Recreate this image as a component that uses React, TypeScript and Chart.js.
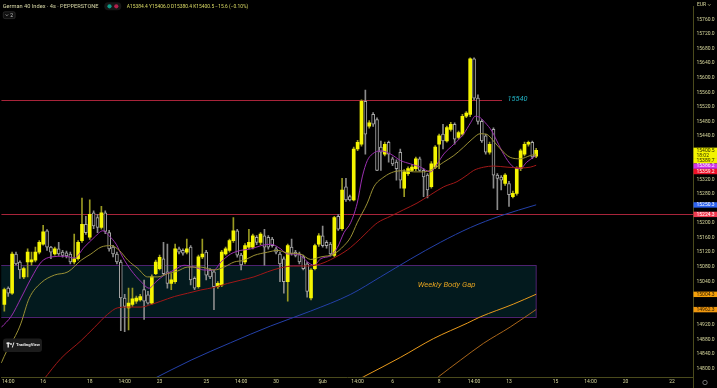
import React, { useEffect, useRef } from 'react';
import { Chart, registerables } from 'chart.js';

Chart.register(...registerables);

// ---------------- data (4h candles, index 0 = first candle of 16 Jan) ----------------
const FIRST_INDEX = -10;

const OPEN = [
  14976, 15021, 15007, 15115, 15093, 15052, 15093, 15093, 15098, 15120,
  15142, 15179, 15134, 15115, 15129, 15120, 15118, 15115, 15093, 15102,
  15152, 15197, 15161, 15228, 15215, 15188, 15228, 15174, 15134, 15115,
  15093, 14994, 14967, 14976, 14985, 14989, 15017, 15003, 14980, 15061,
  15075, 15102, 15066, 15034, 15039, 15129, 15125, 15120, 15134, 15048,
  15025, 15107, 15120, 15071, 15066, 15025, 15030, 15115, 15125, 15152,
  15179, 15112, 15093, 15134, 15134, 15161, 15147, 15165, 15161, 15156,
  15129, 15115, 15102, 15039, 15134, 15120, 15115, 15107, 15088, 14994,
  15075, 15142, 15165, 15147, 15142, 15111, 15219, 15185, 15300, 15273,
  15264, 15404, 15417, 15535, 15467, 15499, 15485, 15409, 15390, 15422,
  15377, 15368, 15395, 15296, 15336, 15345, 15350, 15377, 15345, 15332,
  15300, 15354, 15417, 15445, 15426, 15458, 15472, 15436, 15445, 15494,
  15499, 15652, 15544, 15480, 15440, 15395, 15458, 15332, 15327, 15309,
  15309, 15273, 15282, 15350, 15390, 15417, 15422, 15384.4,
];
const HIGH = [
  15021, 15025, 15120, 15120, 15096, 15079, 15129, 15120, 15134, 15152,
  15194, 15182, 15136, 15134, 15147, 15125, 15123, 15120, 15170, 15152,
  15269, 15219, 15264, 15234, 15224, 15246, 15234, 15180, 15139, 15120,
  15098, 15004, 15021, 15021, 14999, 15004, 15043, 15012, 15058, 15098,
  15112, 15147, 15142, 15061, 15142, 15134, 15129, 15156, 15138, 15052,
  15112, 15156, 15125, 15075, 15071, 15039, 15125, 15134, 15156, 15215,
  15183, 15117, 15144, 15183, 15170, 15166, 15174, 15183, 15166, 15161,
  15134, 15120, 15107, 15142, 15156, 15125, 15120, 15112, 15093, 15075,
  15142, 15171, 15192, 15152, 15147, 15219, 15224, 15323, 15323, 15277,
  15409, 15428, 15539, 15566, 15482, 15504, 15490, 15426, 15423, 15426,
  15382, 15374, 15404, 15347, 15355, 15361, 15382, 15382, 15350, 15336,
  15369, 15413, 15445, 15472, 15467, 15477, 15476, 15453, 15499, 15507,
  15655, 15655, 15553, 15485, 15445, 15423, 15462, 15336, 15331, 15336,
  15315, 15288, 15355, 15404, 15423, 15426, 15426, 15406.0,
];
const LOW = [
  14958, 14998, 15004, 15085, 15048, 15047, 15052, 15084, 15093, 15115,
  15139, 15125, 15102, 15112, 15111, 15106, 15104, 15088, 15088, 15098,
  15147, 15169, 15155, 15185, 15174, 15183, 15171, 15123, 15107, 15088,
  14904, 14901, 14906, 14971, 14979, 14985, 14935, 14977, 14977, 15058,
  15071, 15058, 15021, 15017, 15034, 15115, 15112, 15115, 15030, 15017,
  15021, 15102, 15044, 15047, 14962, 15020, 15025, 15112, 15120, 15147,
  15106, 15071, 15088, 15129, 15129, 15141, 15141, 15084, 15128, 15134,
  15115, 15039, 15007, 14985, 15112, 15107, 15088, 15071, 14996, 14989,
  15071, 15136, 15134, 15131, 15109, 15107, 15180, 15180, 15260, 15261,
  15261, 15399, 15412, 15390, 15461, 15466, 15344, 15345, 15385, 15368,
  15358, 15318, 15296, 15273, 15331, 15342, 15344, 15343, 15273, 15269,
  15296, 15350, 15350, 15404, 15423, 15453, 15417, 15431, 15440, 15490,
  15493, 15539, 15472, 15422, 15390, 15390, 15296, 15237, 15291, 15304,
  15246, 15269, 15277, 15344, 15385, 15412, 15377, 15380.4,
];
const CLOSE = [
  15017, 15007, 15115, 15088, 15071, 15075, 15120, 15099, 15120, 15147,
  15176, 15134, 15120, 15129, 15115, 15111, 15110, 15093, 15102, 15147,
  15197, 15174, 15224, 15192, 15188, 15228, 15177, 15129, 15115, 15093,
  14994, 14971, 14980, 14992, 14994, 14998, 14985, 14980, 15052, 15093,
  15106, 15061, 15034, 15044, 15129, 15120, 15117, 15129, 15044, 15021,
  15107, 15115, 15057, 15052, 15025, 15034, 15120, 15129, 15152, 15179,
  15112, 15085, 15138, 15147, 15165, 15147, 15170, 15134, 15134, 15138,
  15120, 15088, 15039, 15138, 15115, 15111, 15093, 15075, 15012, 15071,
  15138, 15165, 15138, 15138, 15115, 15215, 15183, 15291, 15264, 15264,
  15404, 15422, 15535, 15445, 15476, 15472, 15345, 15395, 15417, 15390,
  15363, 15350, 15318, 15341, 15350, 15354, 15377, 15345, 15327, 15291,
  15363, 15409, 15440, 15426, 15463, 15472, 15431, 15449, 15494, 15503,
  15652, 15544, 15480, 15426, 15395, 15417, 15332, 15323, 15318, 15332,
  15278, 15282, 15350, 15399, 15417, 15422, 15382, 15400.5,
];

// moving averages: [candle index, price]
const MA_FAST = [
  [-10.8, 14913], [-8.2, 14944], [-5.7, 14994], [-3.1, 15048], [-0.5, 15093], [2.1, 15107],
  [5.5, 15109], [8.0, 15104], [10.6, 15134], [13.2, 15161], [15.4, 15179], [17.0, 15165],
  [18.8, 15142], [20.5, 15106], [22.6, 15071], [25.2, 15039], [27.3, 15021], [29.1, 15039],
  [31.2, 15057], [33.8, 15071], [36.3, 15084], [38.9, 15079], [41.5, 15071], [44.0, 15071],
  [45.8, 15093], [48.3, 15115], [50.9, 15125], [53.5, 15129], [56.1, 15138], [58.6, 15142],
  [61.2, 15129], [62.9, 15115], [64.6, 15115], [66.3, 15111], [68.1, 15093], [69.8, 15084],
  [71.5, 15102], [74.1, 15111], [75.8, 15133], [77.5, 15174], [79.2, 15201], [80.9, 15255],
  [82.2, 15327], [83.5, 15372], [84.8, 15390], [86.9, 15399], [89.5, 15390], [92.1, 15372],
  [94.6, 15363], [97.2, 15354], [99.8, 15341], [101.5, 15363], [103.2, 15390], [105.8, 15417],
  [108.3, 15445], [110.1, 15476], [111.3, 15494], [112.6, 15490], [113.9, 15476], [115.6, 15453],
  [117.3, 15417], [119.1, 15381], [121.2, 15354], [122.9, 15350], [124.6, 15368], [126.3, 15381],
  [127, 15386.2],
];
const MA_MID = [
  [-10.8, 14815], [-9.3, 14850], [-7.7, 14879], [-6.5, 14904], [-5.7, 14925], [-3.6, 14993],
  [-0.5, 15036], [2.9, 15057], [6.4, 15066], [9.8, 15098], [12.3, 15115], [14.9, 15134],
  [17.5, 15138], [19.6, 15125], [21.8, 15098], [24.4, 15075], [26.9, 15052], [29.5, 15052],
  [32.1, 15061], [34.6, 15068], [37.2, 15079], [40.6, 15079], [44.0, 15071], [46.6, 15079],
  [49.2, 15093], [51.8, 15098], [54.3, 15111], [57.8, 15120], [60.4, 15125], [62.9, 15118],
  [66.3, 15115], [68.9, 15100], [71.5, 15107], [74.9, 15115], [77.5, 15138], [79.2, 15161],
  [80.9, 15201], [83.5, 15255], [85.2, 15300], [87.8, 15327], [90.3, 15341], [92.9, 15344],
  [95.5, 15341], [98.0, 15341], [100.6, 15350], [103.2, 15368], [105.8, 15386], [108.3, 15409],
  [110.5, 15431], [112.6, 15446], [114.3, 15444], [116.0, 15426], [117.8, 15404], [120.3, 15381],
  [122.9, 15377], [125.5, 15386], [127, 15389.7],
];
const MA_SLOW = [
  [0, 14768], [4.6, 14828], [9.8, 14877], [13.2, 14913], [16.6, 14949], [19.2, 14967],
  [21.8, 14969], [25.2, 14969], [27.8, 14976], [30.3, 14985], [33.8, 14998], [37.2, 15007],
  [40.6, 15016], [44.0, 15023], [47.5, 15034], [50.9, 15043], [54.3, 15052], [57.8, 15066],
  [61.2, 15077], [64.6, 15082], [68.1, 15082], [71.5, 15088], [74.9, 15104], [77.5, 15120],
  [79.2, 15133], [81.8, 15158], [83.8, 15179], [86.1, 15201], [89.5, 15219], [92.9, 15237],
  [96.3, 15255], [99.8, 15278], [103.2, 15300], [106.6, 15314], [109.2, 15332], [110.9, 15345],
  [113.5, 15354], [116.0, 15357], [119.5, 15354], [122.9, 15352], [125.5, 15354], [127, 15359.2],
];
const MA_100 = [
  [27.8, 14768], [38.1, 14823], [48.3, 14871], [58.6, 14917], [68.9, 14958], [79.2, 15004],
  [86.9, 15052], [94.6, 15101], [102.3, 15147], [110.1, 15188], [117.8, 15220], [127, 15250.3],
];
const MA_200 = [
  [80.5, 14766], [82.5, 14777], [92.1, 14831], [100.5, 14882], [109.3, 14925], [112.6, 14942],
  [121.1, 14977], [127, 15004.3],
];
const MA_LONG = [
  [99.8, 14760], [101.8, 14777], [107.5, 14823], [113.4, 14869], [120.3, 14914], [127, 14962.3],
];

const X_TICKS = [-9, 0, 12, 21, 30, 42, 51, 60, 72, 81, 90, 102, 111, 120, 132, 141, 150, 162];
const X_TICK_LABELS = ['14:00', '16', '18', '14:00', '23', '25', '14:00', '30', 'Şub', '14:00', '6', '8', '14:00', '13', '15', '14:00', '20', '22'];
const PRICE_TICKS = [
  14800, 14840, 14880, 14920, 14960, 15000, 15040, 15080, 15120, 15160, 15200, 15240, 15280,
  15320, 15360, 15400, 15440, 15480, 15520, 15560, 15600, 15640, 15680, 15720, 15760,
];

// drawn levels / zones
const RESISTANCE = 15540;
const RESISTANCE_END = 118.2;
const SUPPORT = 15224.3;
const GAP_TOP = 15084;
const GAP_BOTTOM = 14942;
const GAP_END = 127;
const GAP_TEXT_AT = [96.5, 15029];
const COUNTDOWN = '18:02';

const TITLE = 'German 40 Index · 4s · PEPPERSTONE';
const OHLC_TEXT = 'A15384.4 Y15406.0 D15380.4 K15400.5 −15.6 (−0.10%)';

// view window
const X_MIN = -10.8;
const X_MAX = 167.4;
const Y_MIN = 14776.6;
const Y_MAX = 15796.0;

// ---------------- styles ----------------
const FONT = 'Roboto, "Liberation Sans", sans-serif';
const TEXT_COL = '#d6d69c';
const AXIS_COL = '#4a4a1c';
const UP = '#f5f500';
const WICK_UP = '#9a9a22';
const WICK_DOWN = '#8a8a8a';
const DOWN_BORDER = '#a8a8a8';
const LEVEL_COL = '#a8243a';

const lastOf = (a: number[][]) => a[a.length - 1][1];

const AXIS_TAGS = [
  { value: CLOSE[CLOSE.length - 1], extra: COUNTDOWN, bg: '#f3f300', fg: '#2a2a00' },
  { value: lastOf(MA_MID), bg: '#f3f300', fg: '#2a2a00' },
  { value: lastOf(MA_FAST), bg: '#cf32ea', fg: '#ffffff' },
  { value: lastOf(MA_SLOW), bg: '#ef1028', fg: '#ffffff' },
  { value: lastOf(MA_100), bg: '#2d62f0', fg: '#ffffff' },
  { value: SUPPORT, bg: '#f03a50', fg: '#ffffff' },
  { value: lastOf(MA_200), bg: '#f5a00a', fg: '#2a1a00' },
  { value: lastOf(MA_LONG), bg: '#f0980f', fg: '#2a1a00' },
];

function fitFont(ctx: CanvasRenderingContext2D, text: string, width: number, style = '') {
  ctx.font = `${style} 10px ${FONT}`;
  const w = ctx.measureText(text).width || 1;
  return `${style} ${((10 * width) / w).toFixed(2)}px ${FONT}`;
}

function rrect(ctx: CanvasRenderingContext2D, x: number, y: number, w: number, h: number, r: number) {
  ctx.beginPath();
  if ((ctx as any).roundRect) (ctx as any).roundRect(x, y, w, h, r);
  else ctx.rect(x, y, w, h);
}

const overlayPlugin = {
  id: 'overlay',
  beforeDraw(chart: any) {
    const { ctx } = chart;
    ctx.save();
    ctx.fillStyle = '#000';
    ctx.fillRect(0, 0, chart.width, chart.height);
    ctx.restore();
  },
  beforeDatasetsDraw(chart: any) {
    const { ctx, chartArea: a, scales } = chart;
    const xs = scales.x;
    const ys = scales.y;
    ctx.save();
    ctx.beginPath();
    ctx.rect(a.left, a.top, a.right - a.left, a.bottom - a.top);
    ctx.clip();

    // weekly body gap zone
    const gx = xs.getPixelForValue(GAP_END);
    const gt = ys.getPixelForValue(GAP_TOP);
    const gb = ys.getPixelForValue(GAP_BOTTOM);
    ctx.fillStyle = '#031a1e';
    ctx.fillRect(a.left - 2, gt, gx - a.left + 2, gb - gt);
    ctx.strokeStyle = '#4e2270';
    ctx.lineWidth = 1;
    ctx.strokeRect(a.left - 2, Math.round(gt) + 0.5, gx - a.left + 2, Math.round(gb) - Math.round(gt));

    ctx.font = fitFont(ctx, 'Weekly Body Gap', 57.7, 'italic');
    ctx.fillStyle = '#e0a020';
    ctx.textBaseline = 'middle';
    ctx.textAlign = 'left';
    ctx.fillText('Weekly Body Gap', xs.getPixelForValue(GAP_TEXT_AT[0]), ys.getPixelForValue(GAP_TEXT_AT[1]));

    // horizontal levels
    ctx.strokeStyle = LEVEL_COL;
    ctx.lineWidth = 1;
    const ry = Math.round(ys.getPixelForValue(RESISTANCE)) + 0.5;
    ctx.beginPath();
    ctx.moveTo(a.left, ry);
    ctx.lineTo(xs.getPixelForValue(RESISTANCE_END), ry);
    ctx.stroke();
    const sy = Math.round(ys.getPixelForValue(SUPPORT)) + 0.5;
    ctx.beginPath();
    ctx.moveTo(a.left, sy);
    ctx.lineTo(a.right, sy);
    ctx.stroke();

    ctx.font = fitFont(ctx, String(RESISTANCE), 20, 'italic');
    ctx.fillStyle = '#22b4c6';
    ctx.fillText(String(RESISTANCE), xs.getPixelForValue(RESISTANCE_END) + 5.6, ys.getPixelForValue(RESISTANCE));
    ctx.restore();
  },
  afterDraw(chart: any) {
    const { ctx, chartArea: a, scales } = chart;
    const ys = scales.y;
    ctx.save();

    // vertical axis line continues through the time axis
    ctx.strokeStyle = AXIS_COL;
    ctx.lineWidth = 1;
    ctx.beginPath();
    ctx.moveTo(a.right + 0.5, a.bottom);
    ctx.lineTo(a.right + 0.5, chart.height);
    ctx.stroke();

    // price axis tags
    const w = chart.width - a.right;
    const items = AXIS_TAGS.map((t) => ({ ...t, pix: ys.getPixelForValue(t.value) })).sort((p, q) => p.pix - q.pix);
    let prev = -Infinity;
    ctx.font = `5px ${FONT}`;
    ctx.textBaseline = 'middle';
    ctx.textAlign = 'left';
    for (const t of items) {
      const lines = [t.value.toFixed(1)];
      if ((t as any).extra) lines.push((t as any).extra);
      const h = lines.length * 5 + 0.4;
      const top = Math.max(t.pix - 2.6, prev);
      ctx.fillStyle = t.bg;
      ctx.fillRect(a.right + 0.5, top, w, h);
      ctx.fillStyle = t.fg;
      lines.forEach((s, k) => ctx.fillText(s, a.right + 3.5, top + 2.7 + k * 5));
      prev = top + h;
    }

    // currency label
    ctx.fillStyle = TEXT_COL;
    ctx.font = `5px ${FONT}`;
    ctx.fillText('EUR', a.right + 4, 5);
    ctx.strokeStyle = TEXT_COL;
    ctx.lineWidth = 0.6;
    ctx.beginPath();
    ctx.moveTo(a.right + 15, 4.2);
    ctx.lineTo(a.right + 16.3, 5.6);
    ctx.lineTo(a.right + 17.6, 4.2);
    ctx.stroke();

    // settings gear
    ctx.strokeStyle = '#8a8a8a';
    ctx.lineWidth = 0.8;
    ctx.beginPath();
    ctx.arc(a.right + 12, 382.5, 2.2, 0, Math.PI * 2);
    ctx.stroke();

    // header
    ctx.textBaseline = 'middle';
    ctx.font = fitFont(ctx, TITLE, 96);
    ctx.fillStyle = '#d8d8a8';
    ctx.fillText(TITLE, 2.7, 6.3);

    ctx.fillStyle = '#161616';
    rrect(ctx, 104.3, 2.3, 17, 8, 4);
    ctx.fill();
    ctx.fillStyle = '#0f9a88';
    ctx.beginPath();
    ctx.arc(109.5, 6.3, 2.1, 0, Math.PI * 2);
    ctx.fill();
    ctx.fillStyle = '#b0204c';
    ctx.beginPath();
    ctx.arc(116.3, 6.3, 2.1, 0, Math.PI * 2);
    ctx.fill();

    ctx.font = fitFont(ctx, OHLC_TEXT, 121.6);
    ctx.fillStyle = '#dcdc66';
    ctx.fillText(OHLC_TEXT, 126.7, 6.3);

    // collapse button
    ctx.fillStyle = '#101010';
    ctx.strokeStyle = '#343434';
    ctx.lineWidth = 0.7;
    rrect(ctx, 3.3, 11.8, 11.8, 6.8, 1.5);
    ctx.fill();
    ctx.stroke();
    ctx.strokeStyle = '#c8c8c8';
    ctx.lineWidth = 0.6;
    ctx.beginPath();
    ctx.moveTo(5.6, 14.4);
    ctx.lineTo(6.9, 15.8);
    ctx.lineTo(8.2, 14.4);
    ctx.stroke();
    ctx.fillStyle = '#c8c8c8';
    ctx.font = `5px ${FONT}`;
    ctx.fillText('2', 10.2, 15.3);

    // TradingView badge
    ctx.fillStyle = '#1c1c1c';
    rrect(ctx, 3, 338.5, 39, 13.5, 3);
    ctx.fill();
    ctx.fillStyle = '#e8e8e8';
    ctx.fillRect(6.5, 342.5, 3.2, 1.6);
    ctx.fillRect(7.5, 342.5, 1.4, 5);
    ctx.beginPath();
    ctx.arc(11, 344, 0.9, 0, Math.PI * 2);
    ctx.fill();
    ctx.beginPath();
    ctx.moveTo(11.8, 347.5);
    ctx.lineTo(13.4, 342.5);
    ctx.lineTo(14.4, 342.5);
    ctx.lineTo(12.8, 347.5);
    ctx.closePath();
    ctx.fill();
    ctx.font = fitFont(ctx, 'TradingView', 24, 'bold');
    ctx.fillText('TradingView', 16, 345.3);

    ctx.restore();
  },
};

export default function App() {
  const ref = useRef<HTMLCanvasElement>(null);

  useEffect(() => {
    document.body.style.margin = '0';
    document.body.style.background = '#000';

    const candles = OPEN.map((o, k) => ({ i: FIRST_INDEX + k, o, h: HIGH[k], l: LOW[k], c: CLOSE[k] }));
    const ups = candles.filter((c) => c.c >= c.o);
    const downs = candles.filter((c) => c.c < c.o);

    const line = (pts: number[][], color: string) => ({
      type: 'line' as const,
      data: pts.map(([x, y]) => ({ x, y })),
      borderColor: color,
      borderWidth: 1,
      pointRadius: 0,
      fill: false,
      cubicInterpolationMode: 'monotone' as const,
      order: 0,
    });

    const chart = new Chart(ref.current as HTMLCanvasElement, {
      type: 'bar',
      data: {
        datasets: [
          { type: 'bar', data: ups.map((c) => ({ x: c.i, y: [c.l, c.h] })), backgroundColor: WICK_UP, barThickness: 1, grouped: false, order: 3 } as any,
          { type: 'bar', data: downs.map((c) => ({ x: c.i, y: [c.l, c.h] })), backgroundColor: WICK_DOWN, barThickness: 1, grouped: false, order: 3 } as any,
          { type: 'bar', data: ups.map((c) => ({ x: c.i, y: [c.o, c.c] })), backgroundColor: UP, borderWidth: 0, barThickness: 3, grouped: false, order: 2 } as any,
          { type: 'bar', data: downs.map((c) => ({ x: c.i, y: [c.c, c.o] })), backgroundColor: '#000000', borderColor: DOWN_BORDER, borderWidth: 1, borderSkipped: false, barThickness: 3, grouped: false, order: 2 } as any,
          line(MA_LONG, '#a8651a'),
          line(MA_200, '#e89a1c'),
          line(MA_100, '#2440a8'),
          line(MA_SLOW, '#a01818'),
          line(MA_MID, '#9a9035'),
          line(MA_FAST, '#9a2fb0'),
        ],
      },
      options: {
        responsive: false,
        animation: false,
        devicePixelRatio: 1,
        events: [],
        layout: { padding: 0, autoPadding: false } as any,
        plugins: { legend: { display: false }, tooltip: { enabled: false }, title: { display: false } },
        scales: {
          x: {
            type: 'linear',
            min: X_MIN,
            max: X_MAX,
            offset: false,
            grid: { display: false, drawTicks: false },
            border: { display: true, color: AXIS_COL, width: 1 },
            ticks: {
              autoSkip: false,
              maxRotation: 0,
              minRotation: 0,
              padding: 2,
              color: TEXT_COL,
              font: { size: 5, family: FONT },
              callback: (v: any) => {
                const k = X_TICKS.indexOf(Number(v));
                return k >= 0 ? X_TICK_LABELS[k] : '';
              },
            },
            afterBuildTicks: (s: any) => {
              s.ticks = X_TICKS.map((v) => ({ value: v }));
            },
            afterFit: (s: any) => {
              s.height = 11;
            },
          } as any,
          y: {
            type: 'linear',
            position: 'right',
            min: Y_MIN,
            max: Y_MAX,
            grid: { display: false, drawTicks: false },
            border: { display: true, color: AXIS_COL, width: 1 },
            ticks: {
              autoSkip: false,
              padding: 3.5,
              color: TEXT_COL,
              font: { size: 5, family: FONT },
              callback: (v: any) => {
                const n = Number(v);
                if (AXIS_TAGS.some((t) => Math.abs(t.value - n) < 14)) return '';
                return n.toFixed(1);
              },
            },
            afterBuildTicks: (s: any) => {
              s.ticks = PRICE_TICKS.map((v) => ({ value: v }));
            },
            afterFit: (s: any) => {
              s.width = 24;
            },
          } as any,
        },
      },
      plugins: [overlayPlugin],
    } as any);

    return () => chart.destroy();
  }, []);

  return (
    <div style={{ position: 'fixed', left: 0, top: 0, width: 717, height: 388, background: '#000' }}>
      <canvas ref={ref} width={717} height={388} style={{ display: 'block', width: 717, height: 388 }} />
    </div>
  );
}
